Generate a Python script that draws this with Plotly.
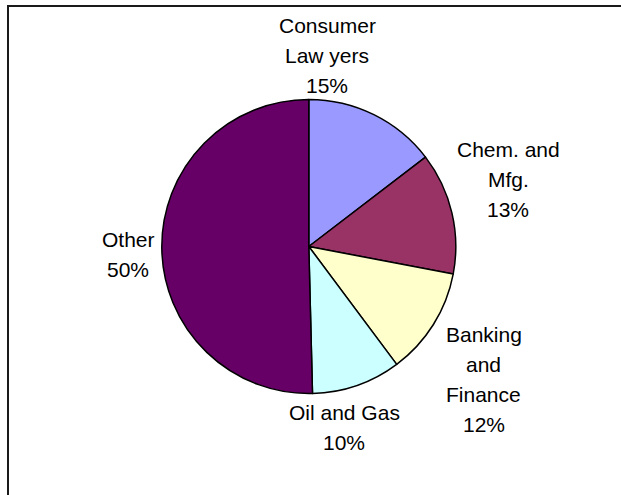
import plotly.graph_objects as go

# ---- data ----
categories = ["Consumer Law yers", "Chem. and Mfg.", "Banking and Finance", "Oil and Gas", "Other"]
label_lines = [["Consumer", "Law yers"], ["Chem. and", "Mfg."], ["Banking", "and", "Finance"], ["Oil and Gas"], ["Other"]]
values = [14.6, 13.4, 11.8, 9.8, 50.4]
colors = ["#9999FF", "#993366", "#FFFFCC", "#CCFFFF", "#660066"]

W, H = 621, 495
total = sum(values)
pcts = [int(v / total * 100 + 0.5) for v in values]

# pie geometry (pixels)
cx, cy, r = 308.8, 246.5, 147

fig = go.Figure(go.Pie(
    labels=categories,
    values=values,
    sort=False,
    direction="clockwise",
    rotation=0,
    marker=dict(colors=colors, line=dict(color="black", width=1.5)),
    textinfo="none",
    hoverinfo="none",
    domain=dict(x=[(cx - r) / W, (cx + r) / W], y=[(H - cy - r) / H, (H - cy + r) / H]),
))

# label block placement (pixel centers of text blocks)
label_pos = [(327, 55.5), (508, 179.5), (483.5, 379.5), (344, 427.5), (128, 254.5)]
line_gap = 30
annotations = []
for lines, p, (lx, ly) in zip(label_lines, pcts, label_pos):
    all_lines = lines + [f"{p}%"]
    n = len(all_lines)
    for i, t in enumerate(all_lines):
        yy = ly + (i - (n - 1) / 2) * line_gap
        annotations.append(dict(
            x=lx / W, y=1 - yy / H, xref="paper", yref="paper",
            text=t, showarrow=False, xanchor="center", yanchor="middle",
            font=dict(family="Liberation Sans, Arial, sans-serif", size=21, color="black"),
        ))

fig.update_layout(
    width=W, height=H,
    margin=dict(l=0, r=0, t=0, b=0),
    paper_bgcolor="white", plot_bgcolor="white",
    showlegend=False,
    annotations=annotations,
    shapes=[dict(type="rect", xref="paper", yref="paper",
                 x0=8 / W, x1=1.2, y0=-0.2, y1=1 - 6 / H,
                 line=dict(color="#1a1a1a", width=2), fillcolor="rgba(0,0,0,0)")],
)

fig.write_html("out.html", config={"displayModeBar": False},
               post_script="document.body.style.margin='0px';document.body.style.overflow='hidden';")
